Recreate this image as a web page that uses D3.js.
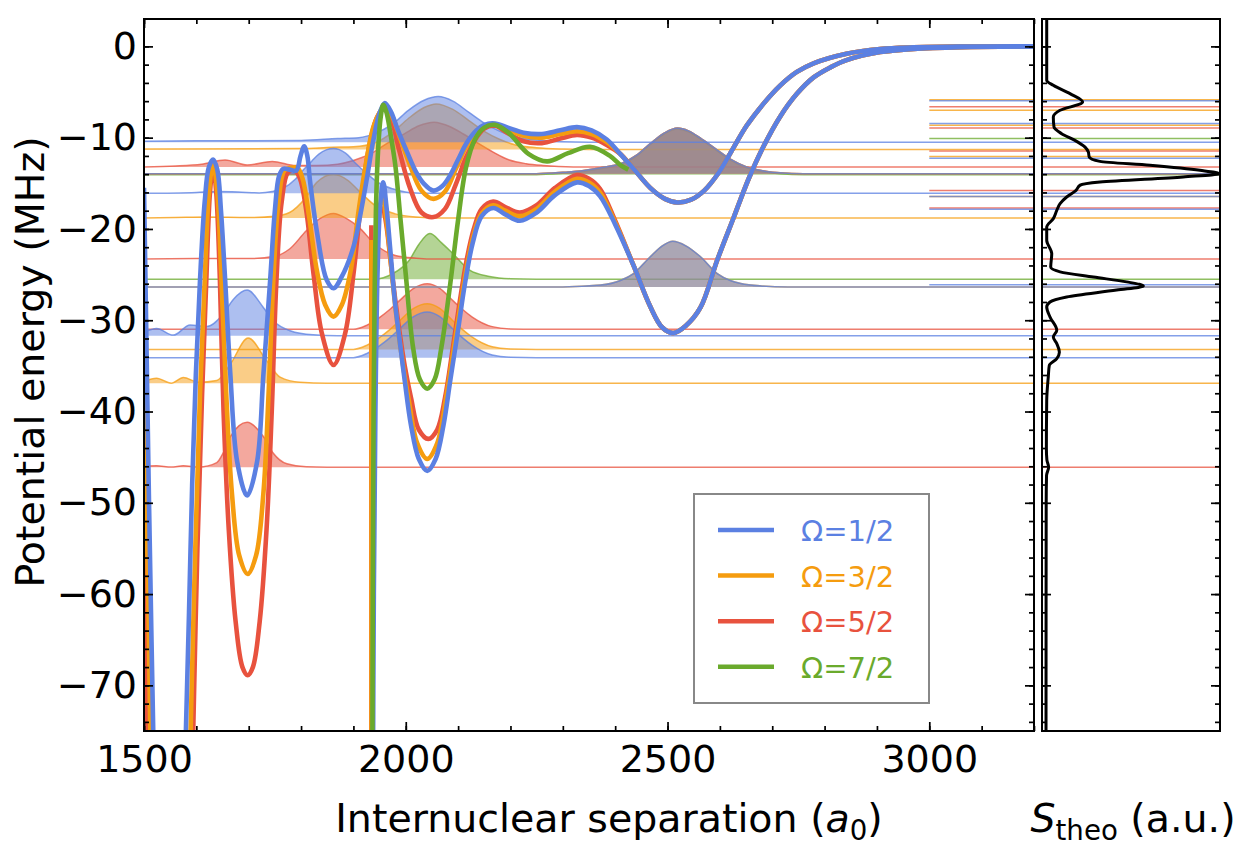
<!DOCTYPE html>
<html lang="en">
<head>
<meta charset="utf-8">
<title>Potential curves and spectrum</title>
<script src="https://cdn.jsdelivr.net/npm/d3@7"></script>
<style>
body {margin: 0; background: #fff;}
svg {display: block; font-family: "DejaVu Sans", sans-serif;}
</style>
</head>
<body>
<svg width="1246" height="856"></svg>
<script>
// ---- data ----
var omegaLabels = ['Ω=1/2', 'Ω=3/2', 'Ω=5/2', 'Ω=7/2'];
var xMajor = [1500, 2000, 2500, 3000];
var yMajor = [0, -10, -20, -30, -40, -50, -60, -70];

// shared right-hand parts of the potentials (R in a0, E in MHz)
var outerTail = [[2410,-11.8],[2435,-13.4],[2467,-15.5],[2495,-16.7],[2519,-17.1],[2545,-16.8],[2570,-15.8],[2597,-13.9],[2625,-11.2],[2651,-8.7],[2683,-6.3],[2715,-4.3],[2747,-2.8],[2779,-1.85],[2842,-0.8],[2906,-0.28],[2970,-0.1],[3060,-0.02],[3200,0]];
var innerTail = [[2435,-24],[2467,-28.5],[2490,-30.8],[2511,-31.4],[2535,-30.6],[2563,-28.6],[2595,-23.4],[2626,-18.8],[2655,-14.5],[2683,-11.0],[2715,-7.7],[2747,-5.2],[2779,-3.4],[2811,-2.3],[2842,-1.5],[2906,-0.62],[2970,-0.27],[3060,-0.08],[3200,0]];

var potHalf = [
    [[1500,-15.5],[1504,-30],[1509,-48],[1514,-64],[1518,-76],[1520,-82]],
    [[1576,-85],[1580,-75],[1586,-62],[1592,-48],[1599,-36],[1607,-25.6],[1616,-17],[1624,-13.2],[1632,-12.4],[1640,-13.5],[1647,-18],[1655,-25.6],[1665,-36],[1678,-45.5],[1697,-49.2],[1716,-45.5],[1728,-36],[1741,-25.6],[1750,-18],[1758,-14.2],[1766,-13.4],[1778,-13.5],[1791,-13.6],[1799,-12],[1806,-10.95],[1812,-12],[1817,-14.7],[1830,-20.2],[1849,-25.6],[1862,-26.5],[1878,-25.2],[1900,-22],[1913,-18.5],[1925,-14.7],[1938,-10.3],[1950,-7.3],[1960,-6.2],[1972,-7.2],[1985,-9.2],[2002,-11.5],[2020,-13.8],[2034,-15],[2053,-15.8],[2070,-15.3],[2085,-14.1],[2100,-12.4],[2116,-10.6],[2135,-9.2],[2150,-8.6],[2170,-8.45],[2195,-8.9],[2225,-9.45],[2260,-9.6],[2295,-9.2],[2327,-8.85],[2355,-9.2],[2384,-10.2]].concat(outerTail),
    [[1937,-85],[1939,-60],[1942,-40],[1946,-25],[1951,-17.5],[1957,-14.9],[1963,-17.5],[1970,-22],[1979,-27.8],[1990,-33],[1998,-36.6],[2010,-41.5],[2025,-45.2],[2041,-46.5],[2057,-45.2],[2072,-41.5],[2085,-36.6],[2100,-31],[2113,-26],[2128,-21.5],[2145,-18.6],[2167,-17.7],[2190,-18.4],[2218,-19.1],[2250,-18.2],[2285,-16.3],[2327,-14.9],[2350,-15.3],[2371,-16.4],[2400,-19.5]].concat(innerTail)
];
var potThreeHalf = [
    [[1500,-36],[1504,-48],[1508,-60],[1512,-75],[1514,-85]],
    [[1585,-85],[1589,-75],[1598,-55],[1607,-38],[1616,-25.6],[1624,-16],[1632,-12.8],[1640,-16],[1648,-25.6],[1657,-38],[1668,-49],[1682,-55.8],[1698,-57.8],[1714,-55.8],[1728,-49],[1738,-38],[1747,-25.6],[1757,-17],[1768,-13.6],[1780,-13.3],[1793,-13.3],[1803,-14.5],[1815,-18.5],[1830,-24.5],[1846,-28.3],[1862,-29.6],[1878,-28.3],[1895,-24.5],[1910,-18],[1925,-12.5],[1940,-8.5],[1960,-6.6],[1975,-7.8],[1990,-10.2],[2008,-13],[2030,-15.8],[2053,-16.7],[2075,-15.9],[2095,-13.5],[2115,-11],[2135,-9.4],[2150,-8.7],[2170,-8.5],[2195,-9.1],[2225,-9.8],[2260,-10.0],[2295,-9.6],[2327,-9.3],[2355,-9.6],[2384,-10.5]].concat(outerTail),
    [[1934.6,-85],[1934.6,-60],[1934.6,-21.2]],
    [[1957,-16.5],[1964,-19.5],[1972,-24],[1982,-29.5],[1995,-35],[2005,-38.5],[2022,-43.5],[2041,-45.2],[2060,-43.5],[2077,-38.5],[2088,-34.5],[2100,-30],[2113,-25.3],[2128,-21],[2145,-18.3],[2167,-17.4],[2190,-18],[2218,-18.6],[2250,-17.8],[2285,-15.9],[2327,-14.5],[2350,-14.9],[2371,-16.0],[2400,-19.3]].concat(innerTail)
];
var potFiveHalf = [
    [[1500,-55],[1503,-64],[1506,-75],[1508,-85]],
    [[1590,-85],[1594,-75],[1602,-55],[1611,-38],[1619,-25.6],[1626,-16],[1632,-13],[1638,-16],[1645,-25.6],[1652,-40],[1662,-53],[1675,-63],[1688,-68],[1698,-68.9],[1708,-68],[1721,-63],[1734,-53],[1744,-40],[1753,-25.6],[1763,-17],[1775,-13.8],[1788,-13.6],[1798,-14.5],[1810,-18],[1824,-25],[1840,-31.5],[1862,-34.9],[1884,-31.5],[1900,-25],[1915,-17],[1930,-11],[1945,-7.8],[1958,-6.8],[1972,-8],[1988,-11.5],[2008,-15.5],[2030,-18.2],[2053,-18.7],[2075,-17.8],[2095,-15.2],[2115,-12.2],[2135,-10],[2150,-9.0],[2170,-8.7],[2195,-9.5],[2225,-10.4],[2260,-10.6],[2295,-10.1],[2327,-9.7],[2355,-10.0],[2384,-10.8]].concat(outerTail),
    [[1934.3,-85],[1934.3,-60],[1934.3,-19.6]],
    [[1957,-17.5],[1964,-20],[1973,-24.5],[1985,-30],[1998,-35],[2010,-38.5],[2025,-42],[2043,-43],[2060,-42],[2075,-38.5],[2090,-33],[2103,-28],[2116,-23.5],[2130,-20],[2145,-17.8],[2167,-17.0],[2190,-17.6],[2218,-18.2],[2250,-17.4],[2285,-15.5],[2327,-14.1],[2350,-14.5],[2371,-15.6],[2400,-19.1]].concat(innerTail)
];
var potSevenHalf = [
    [[1936,-85],[1937,-60],[1938.5,-40],[1940.5,-27],[1943,-18],[1947,-11.5],[1952,-7.8],[1957,-6.4],[1963,-7.2],[1970,-9.3],[1980,-13],[1990,-19],[2000,-25],[2014,-33],[2027,-36.5],[2041,-37.5],[2055,-36.5],[2068,-33],[2085,-26],[2100,-19],[2115,-13.3],[2132,-10.2],[2150,-8.9],[2170,-8.6],[2195,-9.4],[2235,-11.8],[2270,-12.6],[2310,-11.7],[2352,-11.0],[2390,-12.0],[2410,-13.0],[2425,-13.5]]
];

// bound-state densities: [R, height above the level in MHz]
var waveB1 = [[1500,0.1],[1600,0.15],[1700,0.15],[1800,0.2],[1870,0.4],[1910,0.5],[1943,1.0],[1975,2.0],[2005,3.5],[2035,4.6],[2062,5.0],[2090,4.5],[2120,3.3],[2150,2.1],[2180,1.2],[2210,0.6],[2250,0.25],[2300,0.05],[2350,0]];
var waveO1 = [[1500,0.05],[1800,0.1],[1860,0.25],[1900,0.3],[1944,0.8],[1975,1.9],[2005,3.4],[2035,4.6],[2058,5.0],[2090,4.4],[2120,3.2],[2150,2.0],[2180,1.1],[2210,0.5],[2250,0.2],[2300,0.05],[2350,0]];
var waveR1 = [[1500,0],[1560,0.1],[1610,0.3],[1655,0.75],[1697,0.2],[1745,0.6],[1790,0.15],[1830,0.15],[1870,0.3],[1900,0.7],[1935,1.5],[1965,2.6],[1998,3.65],[2025,4.5],[2054,4.9],[2085,4.4],[2110,3.6],[2135,2.7],[2166,1.65],[2198,0.75],[2230,0.35],[2262,0.15],[2320,0]];
var waveB2 = [[1500,0],[1600,0.1],[1640,0.2],[1680,0.15],[1720,0.05],[1745,0.2],[1764,0.5],[1790,1.6],[1805,2.6],[1820,3.5],[1834,4.3],[1862,4.9],[1885,4.4],[1904,3.3],[1925,2.2],[1942,1.4],[1960,0.8],[1975,0.5],[2005,0.1],[2050,0]];
var waveO2 = [[1500,0],[1560,0.05],[1620,0.1],[1700,0.05],[1750,0.2],[1778,0.6],[1810,2.3],[1830,3.9],[1862,4.8],[1890,4.1],[1910,3.0],[1942,1.35],[1980,0.45],[2020,0.1],[2060,0]];
var waveR2 = [[1500,0],[1600,0.05],[1700,0.05],[1750,0.3],[1778,1.1],[1810,3.1],[1835,4.4],[1862,5.0],[1888,4.4],[1910,3.5],[1942,1.6],[1980,0.4],[2020,0.1],[2060,0]];
var waveG1 = [[1940,0],[1975,0.6],[2007,2.1],[2025,3.8],[2046,5.0],[2068,4.0],[2090,2.8],[2122,1.0],[2160,0.3],[2200,0.05],[2250,0]];
var waveTop = [[2250,0],[2300,0.15],[2340,0.35],[2372,0.65],[2415,1.2],[2440,2.0],[2467,3.3],[2495,4.5],[2519,5.0],[2540,4.7],[2563,3.9],[2590,2.8],[2620,1.6],[2651,0.75],[2690,0.25],[2715,0.1],[2760,0]];
var waveLow = [[2300,0],[2372,0.2],[2410,0.7],[2435,1.46],[2467,3.3],[2490,4.5],[2510,5.0],[2535,4.5],[2563,3.3],[2595,1.46],[2620,0.7],[2640,0.37],[2680,0.1],[2730,0]];
var waveMid = [[1900,0],[1925,0.44],[1951,1.35],[1970,2.2],[1989,3.2],[2015,4.5],[2041,5.0],[2065,4.5],[2089,3.2],[2108,2.2],[2127,1.35],[2165,0.3],[2200,0.05],[2250,0]];
var waveB3 = [[1500,0.4],[1524,0.8],[1556,0.07],[1588,1.17],[1620,1.02],[1651,2.37],[1671,4.0],[1697,5.0],[1728,3.1],[1747,1.64],[1779,0.55],[1823,0.1],[1870,0]];
var waveO3 = [[1500,0.2],[1524,0.55],[1552,0.0],[1575,0.62],[1604,0.1],[1639,0.3],[1665,2.1],[1699,4.96],[1734,2.5],[1760,0.66],[1798,0.1],[1850,0]];
var waveR3 = [[1500,0.1],[1524,0.15],[1552,0.02],[1575,0.15],[1605,0.02],[1639,0.5],[1651,1.53],[1665,3.36],[1697,4.93],[1728,3.36],[1747,1.53],[1773,0.37],[1810,0.05],[1850,0]];

// levels: [energy MHz, omega index, drawn across whole R range?, density]
var levelRows = [
    [-5.95, 0, false, null], [-8.45, 0, false, null], [-10.5, 0, true, waveB1], [-12.25, 0, false, null],
    [-13.95, 0, true, waveTop], [-16.1, 0, true, waveB2], [-16.45, 0, false, null], [-17.85, 0, false, null],
    [-26.1, 0, false, null], [-26.35, 0, true, waveLow], [-31.7, 0, true, waveB3], [-34.1, 0, true, waveMid],
    [-5.85, 1, false, null], [-7.0, 1, false, null], [-8.65, 1, false, null], [-11.3, 1, true, waveO1],
    [-12.05, 1, false, null], [-13.95, 1, true, waveTop], [-16.45, 1, false, null], [-18.8, 1, true, waveO2],
    [-26.35, 1, true, waveLow], [-33.2, 1, true, waveMid], [-36.9, 1, true, waveO3],
    [-6.6, 2, false, null], [-8.95, 2, false, null], [-11.45, 2, false, null], [-13.2, 2, true, waveR1],
    [-13.95, 2, true, waveTop], [-15.8, 2, false, null], [-17.7, 2, false, null], [-23.3, 2, true, waveR2],
    [-31.0, 2, true, waveMid], [-46.1, 2, true, waveR3],
    [-10.1, 3, false, null], [-14.05, 3, true, waveTop], [-25.5, 3, true, waveG1]
];

// theoretical spectrum: [E MHz, S normalised]
var spectrum = [[3,0.007],[-3.7,0.007],[-4.27,0.045],[-5.18,0.141],[-6.1,0.214],[-7.0,0.084],[-7.74,0.045],[-8.84,0.049],[-9.56,0.093],[-10.3,0.17],[-11.03,0.228],[-11.58,0.247],[-12.12,0.252],[-12.6,0.314],[-13.03,0.602],[-13.58,0.89],[-13.95,1.0],[-14.3,0.794],[-14.86,0.314],[-15.2,0.2],[-15.77,0.176],[-16.5,0.122],[-17.23,0.084],[-17.96,0.065],[-18.87,0.045],[-19.8,0.007],[-21.25,0.007],[-22.7,0.036],[-24.18,0.03],[-24.7,0.084],[-25.27,0.276],[-25.8,0.468],[-26.25,0.564],[-26.7,0.41],[-27.46,0.122],[-28.0,0.026],[-28.55,0.007],[-29.65,0.026],[-31.1,0.065],[-31.84,0.045],[-32.57,0.065],[-33.5,0.08],[-34.2,0.065],[-34.94,0.022],[-36.2,0.016],[-38.8,0.007],[-44,0.005],[-45.3,0.008],[-46.1,0.018],[-47,0.006],[-50,0.004],[-75,0.003]];

// ---- styles ----
var omegaColors = ['#5b80e2', '#f59c0f', '#e8523e', '#6aaa2c'];
var fontSize = 38;
var titleSize = 39.5;

// ---- drawing ----
var svg = d3.select('svg');
var x = d3.scaleLinear().domain([1500, 3200]).range([144, 1034]);
var y = d3.scaleLinear().domain([-75, 3]).range([731, 19]);
var s = d3.scaleLinear().domain([0, 1]).range([1045.5, 1219]);
var sideX = [1042, 1220];

var defs = svg.append('defs');
defs.append('clipPath').attr('id', 'clipMain').append('rect')
    .attr('x', 144).attr('y', 19).attr('width', 890).attr('height', 712);
defs.append('clipPath').attr('id', 'clipSide').append('rect')
    .attr('x', 1042).attr('y', 19).attr('width', 178).attr('height', 712);

var gMain = svg.append('g').attr('clip-path', 'url(#clipMain)');
var gSide = svg.append('g').attr('clip-path', 'url(#clipSide)');

var padWave = function(w) {
    var p = w.slice();
    if (p[0][0] > 1500) p.unshift([1500, 0]);
    if (p[p.length - 1][0] < 3200) p.push([3200, 0]);
    return p;
};

// levels, drawn green, red, orange, blue so blue ends on top
[3, 2, 1, 0].forEach(function(om) {
    levelRows.filter(function(r) { return r[1] === om; }).forEach(function(r) {
        var E = r[0], col = omegaColors[om];
        if (r[2]) {
            var pts = r[3] ? padWave(r[3]) : [[1500, 0], [3200, 0]];
            if (r[3]) {
                gMain.append('path').datum(pts)
                    .attr('d', d3.area().x(function(d) { return x(d[0]); })
                        .y0(y(E)).y1(function(d) { return y(E + d[1]); })
                        .curve(d3.curveMonotoneX))
                    .attr('fill', col).attr('fill-opacity', 0.5);
            }
            gMain.append('path').datum(pts)
                .attr('d', d3.line().x(function(d) { return x(d[0]); })
                    .y(function(d) { return y(E + d[1]); })
                    .curve(d3.curveMonotoneX))
                .attr('fill', 'none').attr('stroke', col)
                .attr('stroke-width', 1.5).attr('stroke-opacity', 0.75);
        } else {
            gMain.append('line')
                .attr('x1', x(3000)).attr('x2', x(3200))
                .attr('y1', y(E)).attr('y2', y(E))
                .attr('stroke', col).attr('stroke-width', 1.5).attr('stroke-opacity', 0.75);
        }
        gSide.append('line')
            .attr('x1', sideX[0]).attr('x2', sideX[1])
            .attr('y1', y(E)).attr('y2', y(E))
            .attr('stroke', col).attr('stroke-width', 1.5).attr('stroke-opacity', 0.75);
    });
});

// potential curves
var potLine = d3.line()
    .x(function(d) { return x(d[0]); })
    .y(function(d) { return y(d[1]); })
    .curve(d3.curveCatmullRom.alpha(0.5));
var pots = [potHalf, potThreeHalf, potFiveHalf, potSevenHalf];
[2, 1, 0, 3].forEach(function(om) {
    pots[om].forEach(function(seg) {
        gMain.append('path').datum(seg).attr('d', potLine)
            .attr('fill', 'none').attr('stroke', omegaColors[om])
            .attr('stroke-width', 4.6).attr('stroke-linejoin', 'round');
    });
});

// spectrum
gSide.append('path').datum(spectrum)
    .attr('d', d3.line().x(function(d) { return s(d[1]); })
        .y(function(d) { return y(d[0]); })
        .curve(d3.curveMonotoneY))
    .attr('fill', 'none').attr('stroke', '#000').attr('stroke-width', 3);

// axes (ticks point inward)
var xMinor = d3.range(1500, 3201, 100);
var yMinor = d3.range(0, -76, -2);
var styleAxis = function(g) {
    g.select('.domain').remove();
    g.selectAll('line').attr('stroke', '#000').attr('stroke-width', 1.7);
    g.selectAll('text').attr('font-size', fontSize).attr('font-family', 'DejaVu Sans').attr('fill', '#000');
};
var addAxis = function(axis, tx, ty) {
    svg.append('g').attr('transform', 'translate(' + tx + ',' + ty + ')').call(axis).call(styleAxis);
};
addAxis(d3.axisBottom(x).tickValues(xMinor).tickSize(-5).tickFormat(''), 0, 731);
addAxis(d3.axisBottom(x).tickValues(xMajor).tickSize(-9).tickPadding(14).tickFormat(d3.format('d')), 0, 731);
addAxis(d3.axisTop(x).tickValues(xMinor).tickSize(-5).tickFormat(''), 0, 19);
addAxis(d3.axisTop(x).tickValues(xMajor).tickSize(-9).tickFormat(''), 0, 19);
addAxis(d3.axisLeft(y).tickValues(yMinor).tickSize(-5).tickFormat(''), 144, 0);
addAxis(d3.axisLeft(y).tickValues(yMajor).tickSize(-9).tickPadding(7).tickFormat(d3.format('d')), 144, 0);
addAxis(d3.axisRight(y).tickValues(yMinor).tickSize(-5).tickFormat(''), 1034, 0);
addAxis(d3.axisRight(y).tickValues(yMajor).tickSize(-9).tickFormat(''), 1034, 0);
addAxis(d3.axisLeft(y).tickValues(yMinor).tickSize(-5).tickFormat(''), 1042, 0);
addAxis(d3.axisLeft(y).tickValues(yMajor).tickSize(-9).tickFormat(''), 1042, 0);
addAxis(d3.axisRight(y).tickValues(yMinor).tickSize(-5).tickFormat(''), 1220, 0);
addAxis(d3.axisRight(y).tickValues(yMajor).tickSize(-9).tickFormat(''), 1220, 0);

// frames
svg.append('rect').attr('x', 144).attr('y', 19).attr('width', 890).attr('height', 712)
    .attr('fill', 'none').attr('stroke', '#000').attr('stroke-width', 2);
svg.append('rect').attr('x', 1042).attr('y', 19).attr('width', 178).attr('height', 712)
    .attr('fill', 'none').attr('stroke', '#000').attr('stroke-width', 2);

// axis titles
svg.append('text').attr('transform', 'translate(44,362) rotate(-90)')
    .attr('text-anchor', 'middle').attr('font-size', titleSize).text('Potential energy (MHz)');
var xt = svg.append('text').attr('x', 609).attr('y', 832)
    .attr('text-anchor', 'middle').attr('font-size', titleSize);
xt.append('tspan').text('Internuclear separation (');
xt.append('tspan').attr('font-style', 'italic').text('a');
xt.append('tspan').attr('font-size', titleSize * 0.7).attr('dy', 8).text('0');
xt.append('tspan').attr('dy', -8).text(')');
var st = svg.append('text').attr('x', 1133).attr('y', 832)
    .attr('text-anchor', 'middle').attr('font-size', titleSize);
st.append('tspan').attr('font-style', 'italic').text('S');
st.append('tspan').attr('font-size', titleSize * 0.7).attr('dy', 8).text('theo');
st.append('tspan').attr('dy', -8).text(' (a.u.)');

// legend
var lg = svg.append('g');
lg.append('rect').attr('x', 694).attr('y', 494).attr('width', 235).attr('height', 209)
    .attr('fill', '#fff').attr('stroke', '#888').attr('stroke-width', 2);
omegaLabels.forEach(function(lab, i) {
    var ly = 530 + i * 45.6;
    lg.append('line').attr('x1', 718).attr('x2', 774).attr('y1', ly).attr('y2', ly)
        .attr('stroke', omegaColors[i]).attr('stroke-width', 4.5);
    lg.append('text').attr('x', 801).attr('y', ly + 11).attr('font-size', 29)
        .attr('fill', omegaColors[i]).text(lab);
});
</script>
</body>
</html>
